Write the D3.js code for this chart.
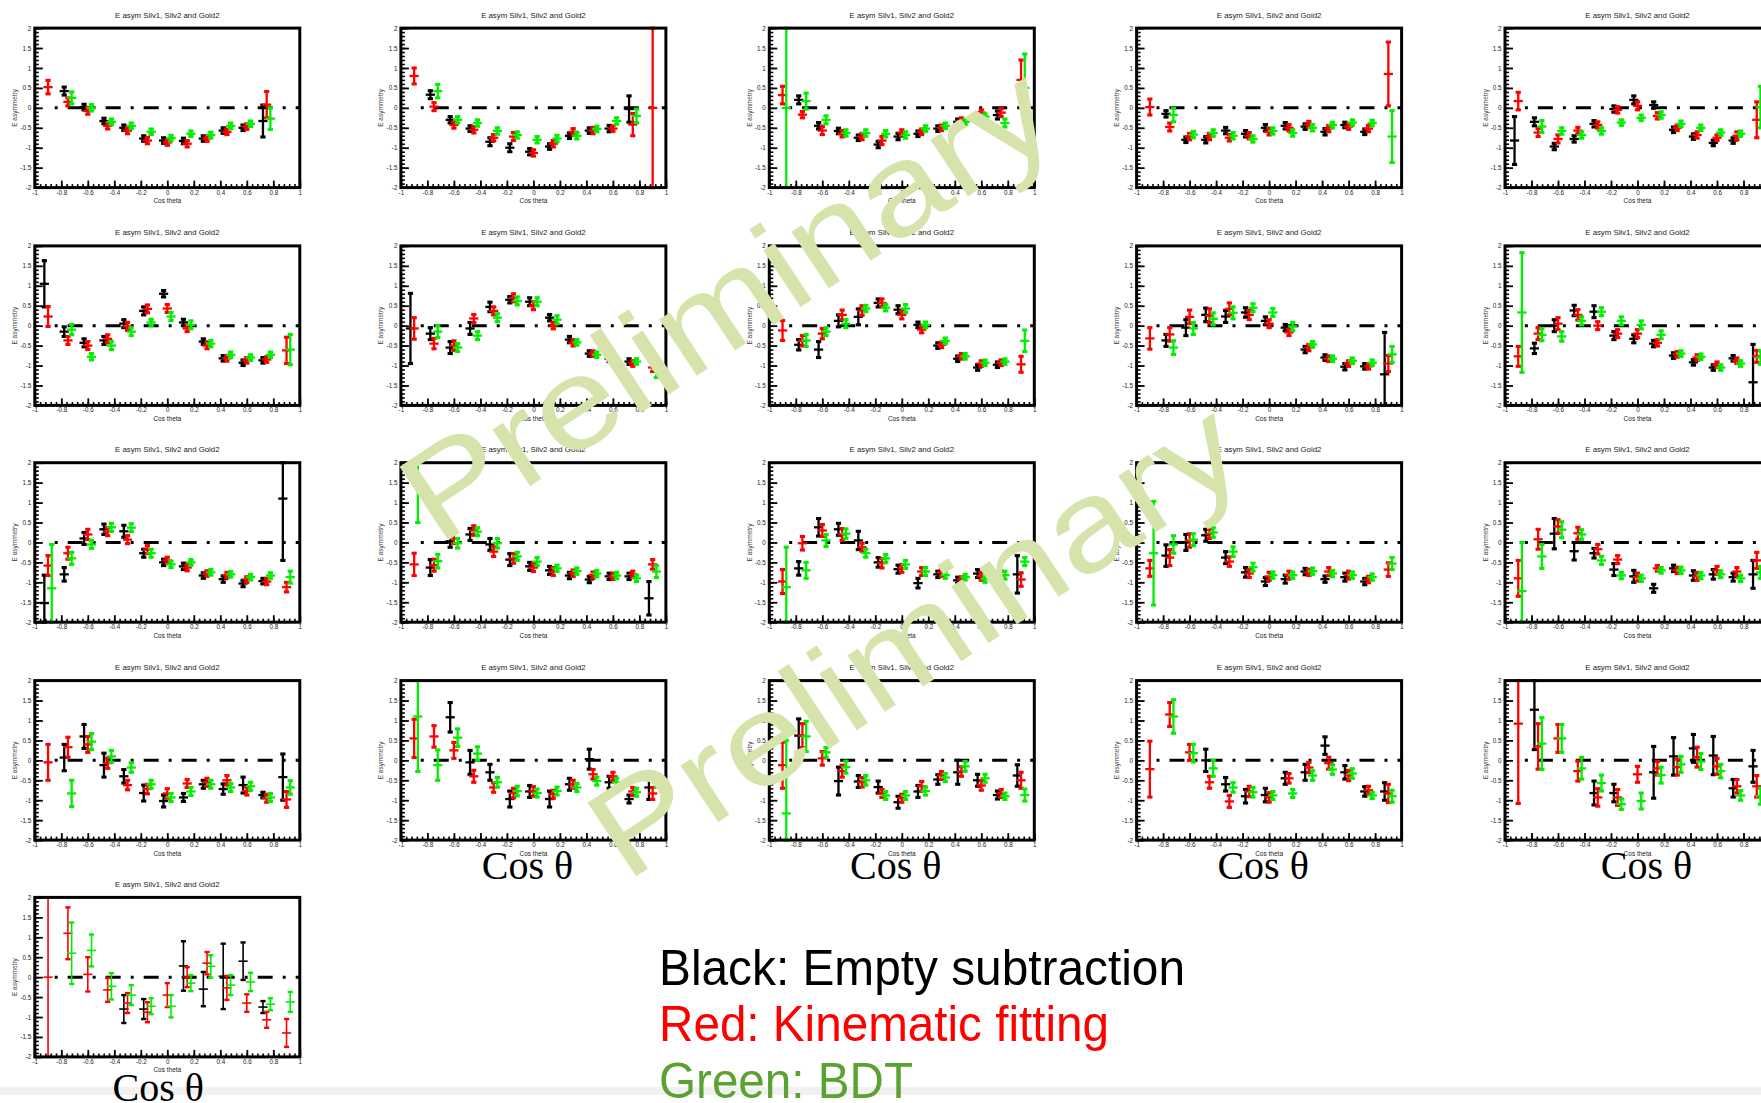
<!DOCTYPE html>
<html><head><meta charset="utf-8">
<script src="https://cdn.jsdelivr.net/npm/d3@7"></script>
<style>
html,body{margin:0;padding:0;background:#fff;}
svg{display:block;}
</style></head><body>
<svg id="chart" width="1761" height="1103"></svg>
<script>
const N = null;
const binCenters = [-0.9,-0.75,-0.6,-0.45,-0.3,-0.15,0,0.15,0.3,0.45,0.6,0.75,0.9];
const xTickValues = [-1,-0.8,-0.6,-0.4,-0.2,0,0.2,0.4,0.6,0.8,1];
const xTickLabels = ["-1","-0.8","-0.6","-0.4","-0.2","0","0.2","0.4","0.6","0.8","1"];
const yTickValues = [-2,-1.5,-1,-0.5,0,0.5,1,1.5,2];
const yTickLabels = ["-2","-1.5","-1","-0.5","0","0.5","1","1.5","2"];
const panelTitle = "E asym Silv1, Silv2 and Gold2";
const xAxisTitle = "Cos theta";
const yAxisTitle = "E asymmetry";
const bigAxisLabel = "Cos θ";
const bigLabelPanels = [16,17,18,19,20];
const seriesNames = ["Black: Empty subtraction","Red: Kinematic fitting","Green: BDT"];
const watermarkText = "Preliminary";

// [value, error] per bin, per panel (21 panels, 13 bins)
const blackData = [
[N,[0.42,0.1],[0.02,0.07],[-0.33,0.07],[-0.5,0.07],[-0.77,0.07],[-0.82,0.07],[-0.83,0.07],[-0.77,0.07],[-0.57,0.07],[-0.5,0.07],[-0.33,0.4],N],
[N,[0.33,0.1],[-0.3,0.08],[-0.52,0.07],[-0.85,0.1],[-1.0,0.1],[-1.1,0.08],[-0.97,0.07],[-0.7,0.07],[-0.57,0.07],[-0.52,0.08],[-0.03,0.33],N],
[N,[0.2,0.1],[-0.45,0.08],[-0.58,0.07],[-0.75,0.07],[-0.92,0.08],[-0.72,0.08],[-0.65,0.07],[-0.52,0.07],[-0.35,0.07],[-0.2,0.07],[-0.18,0.1],N],
[N,[-0.15,0.08],[-0.8,0.07],[-0.8,0.08],[-0.57,0.08],[-0.65,0.08],[-0.5,0.08],[-0.45,0.08],[-0.47,0.07],[-0.6,0.08],[-0.43,0.07],[-0.6,0.07],N],
[[-0.82,0.6],[-0.35,0.1],[-0.97,0.08],[-0.78,0.08],[-0.4,0.08],[-0.03,0.08],[0.2,0.1],[0.07,0.08],[-0.55,0.07],[-0.72,0.07],[-0.88,0.07],[-0.82,0.07],N],
[[1.05,0.58],[-0.15,0.12],[-0.43,0.1],[-0.37,0.1],[0.05,0.1],[0.37,0.1],[0.8,0.08],[0.08,0.08],[-0.4,0.07],[-0.82,0.07],[-0.93,0.07],[-0.87,0.07],N],
[[-0.07,0.88],[-0.2,0.15],[-0.55,0.15],[-0.07,0.15],[0.47,0.12],[0.65,0.08],[0.6,0.1],[0.2,0.08],[-0.35,0.08],[-0.7,0.07],[-0.83,0.07],[-0.9,0.07],N],
[N,[-0.48,0.13],[-0.6,0.2],[0.12,0.15],[0.22,0.2],[0.57,0.1],[0.4,0.1],[0.02,0.07],[-0.5,0.07],[-0.83,0.07],[-1.05,0.07],[-0.98,0.07],N],
[N,[-0.37,0.15],[-0.05,0.2],[0.27,0.17],[0.23,0.15],[0.33,0.12],[0.12,0.1],[-0.05,0.08],[-0.6,0.08],[-0.8,0.07],[-1.03,0.08],[-1.02,0.07],[-1.22,1.05]],
[N,[-0.57,0.13],[0.0,0.15],[0.38,0.13],[0.35,0.15],[-0.25,0.1],[-0.33,0.1],[-0.45,0.08],[-0.75,0.07],[-0.92,0.07],[-1.05,0.07],[-0.82,0.07],[-1.42,0.95]],
[[-1.52,0.7],[-0.8,0.17],[0.1,0.15],[0.33,0.13],[0.28,0.15],[-0.27,0.1],[-0.5,0.08],[-0.6,0.08],[-0.83,0.07],[-0.92,0.08],[-1.03,0.08],[-0.97,0.07],[1.1,1.55]],
[N,[-0.63,0.2],[0.03,0.15],[0.2,0.15],[-0.05,0.15],[-0.43,0.15],[-0.6,0.1],[-0.7,0.1],[-0.83,0.08],[-0.93,0.08],[-0.85,0.08],[-0.85,0.08],[-1.4,0.42]],
[N,[-0.65,0.17],[0.38,0.22],[0.33,0.15],[0.05,0.23],[-0.5,0.12],[-0.67,0.1],[-1.02,0.12],[-0.8,0.08],[-0.95,0.08],[-0.78,0.1],[-0.85,0.1],[-0.8,0.47]],
[N,[-0.33,0.27],[0.0,0.2],[0.18,0.15],[-0.38,0.15],[-0.75,0.12],[-0.98,0.1],[-0.92,0.1],[-0.73,0.08],[-0.92,0.08],[-0.87,0.1],[-0.98,0.08],N],
[N,N,[0.22,0.38],[-0.22,0.22],[-0.27,0.12],[-0.68,0.15],[-0.85,0.15],[-1.15,0.1],[-0.65,0.08],[-0.83,0.12],[-0.8,0.12],[-0.87,0.1],[-0.8,0.35]],
[N,[0.07,0.33],[0.6,0.3],[-0.12,0.3],[-0.4,0.17],[-0.82,0.2],[-1.02,0.15],[-0.93,0.1],[-0.6,0.1],[-0.72,0.13],[-0.62,0.2],[-0.87,0.07],[-0.42,0.58]],
[N,N,[1.08,0.37],[-0.05,0.3],[-0.3,0.2],[-0.97,0.2],[-0.78,0.15],[-0.97,0.2],[-0.6,0.15],[0.03,0.25],[-0.55,0.15],[-0.97,0.1],[-0.68,0.3]],
[N,[0.62,0.42],N,[-0.52,0.35],[-0.53,0.15],[-0.67,0.15],[-1.05,0.15],[-0.78,0.15],[-0.48,0.12],[-0.3,0.3],[-0.5,0.15],[-0.87,0.1],[-0.38,0.27]],
[N,N,N,[0.0,0.28],[-0.6,0.17],[-0.9,0.17],[-0.87,0.17],[-0.45,0.15],[-0.3,0.2],[0.37,0.22],[-0.3,0.17],[-0.78,0.12],[-0.78,0.22]],
[N,[1.27,1.0],N,N,[-0.82,0.3],[-0.82,0.22],N,[-0.3,0.65],[0.1,0.47],[0.3,0.35],[0.12,0.48],[-0.7,0.22],[-0.15,0.4]],
[N,N,N,N,[-0.8,0.35],[-0.8,0.25],N,[0.28,0.62],[-0.3,0.43],[0.02,0.82],[0.4,0.47],[-0.75,0.15],N]
];
const redData = [
[[0.52,0.17],[0.15,0.1],[-0.08,0.08],[-0.45,0.08],[-0.57,0.08],[-0.82,0.08],[-0.87,0.07],[-0.9,0.08],[-0.77,0.07],[-0.6,0.07],[-0.47,0.07],[0.08,0.33],N],
[[0.8,0.2],[0.03,0.1],[-0.43,0.08],[-0.55,0.08],[-0.75,0.08],[-0.72,0.1],[-1.13,0.08],[-0.9,0.08],[-0.6,0.08],[-0.57,0.08],[-0.52,0.07],[-0.42,0.28],[0.0,2.0]],
[[0.32,0.22],[-0.17,0.08],[-0.57,0.1],[-0.65,0.08],[-0.72,0.08],[-0.82,0.1],[-0.62,0.07],[-0.6,0.07],[-0.5,0.07],[-0.32,0.07],[-0.12,0.07],[-0.12,0.1],[0.7,0.5]],
[[0.02,0.2],[-0.48,0.1],[-0.72,0.08],[-0.72,0.08],[-0.75,0.08],[-0.7,0.08],[-0.6,0.08],[-0.5,0.08],[-0.42,0.08],[-0.52,0.08],[-0.47,0.07],[-0.52,0.08],[0.85,0.8]],
[[0.17,0.22],[-0.62,0.1],[-0.78,0.1],[-0.57,0.08],[-0.43,0.08],[-0.05,0.08],[0.05,0.1],[-0.2,0.08],[-0.5,0.07],[-0.68,0.08],[-0.75,0.07],[-0.7,0.1],[-0.3,0.45]],
[[0.23,0.25],[-0.37,0.1],[-0.5,0.1],[-0.33,0.1],[-0.02,0.1],[0.42,0.1],[0.43,0.1],[-0.07,0.08],[-0.5,0.08],[-0.82,0.07],[-0.87,0.07],[-0.85,0.07],[-0.62,0.33]],
[[-0.07,0.27],[-0.45,0.13],[-0.5,0.12],[0.18,0.1],[0.37,0.1],[0.7,0.1],[0.5,0.1],[0.0,0.08],[-0.43,0.08],[-0.7,0.07],[-0.88,0.07],[-0.95,0.07],[-1.05,0.1]],
[[-0.12,0.25],[-0.38,0.13],[-0.2,0.13],[0.27,0.12],[0.38,0.12],[0.57,0.1],[0.27,0.1],[-0.1,0.08],[-0.48,0.07],[-0.77,0.07],[-0.95,0.07],[-0.93,0.07],[-0.97,0.2]],
[[-0.32,0.27],[-0.22,0.17],[0.22,0.17],[0.25,0.17],[0.42,0.15],[0.27,0.12],[0.05,0.1],[-0.17,0.08],[-0.55,0.08],[-0.83,0.07],[-0.95,0.07],[-1.02,0.07],[-0.95,0.2]],
[[-0.77,0.25],[-0.2,0.15],[0.05,0.15],[0.27,0.13],[0.0,0.1],[-0.2,0.1],[-0.2,0.1],[-0.43,0.08],[-0.72,0.07],[-0.8,0.07],[-0.98,0.07],[-0.88,0.07],[-0.77,0.15]],
[[-0.58,0.25],[-0.27,0.15],[0.2,0.13],[0.27,0.1],[0.07,0.1],[-0.18,0.1],[-0.45,0.08],[-0.63,0.08],[-0.78,0.07],[-0.82,0.07],[-0.93,0.07],[-0.98,0.08],[-1.12,0.12]],
[[-0.55,0.28],[-0.57,0.15],[0.1,0.13],[0.3,0.12],[-0.23,0.12],[-0.4,0.12],[-0.63,0.1],[-0.73,0.1],[-0.77,0.08],[-0.82,0.08],[-0.85,0.08],[-0.8,0.08],[-0.55,0.12]],
[[-0.98,0.3],[-0.02,0.17],[0.3,0.15],[0.2,0.15],[-0.12,0.1],[-0.52,0.12],[-0.65,0.1],[-0.73,0.1],[-0.75,0.1],[-0.93,0.07],[-0.85,0.1],[-0.82,0.1],[-0.93,0.17]],
[[-0.65,0.2],[-0.38,0.2],[0.05,0.17],[0.22,0.12],[-0.48,0.12],[-0.78,0.1],[-0.85,0.1],[-0.82,0.1],[-0.75,0.08],[-0.73,0.1],[-0.82,0.1],[-0.93,0.08],[-0.68,0.17]],
[[-0.9,0.45],[0.08,0.25],[0.4,0.17],[0.23,0.15],[-0.17,0.12],[-0.43,0.1],[-0.87,0.1],[-0.65,0.07],[-0.7,0.08],[-0.85,0.1],[-0.7,0.1],[-0.73,0.1],[-0.45,0.2]],
[[-0.05,0.45],[0.33,0.25],[0.4,0.2],[-0.07,0.13],[-0.62,0.12],[-0.72,0.12],[-0.83,0.12],[-0.58,0.1],[-0.55,0.1],[-0.5,0.12],[-0.77,0.1],[-0.95,0.1],[-0.98,0.2]],
[[0.55,0.48],[0.6,0.27],[0.25,0.2],[-0.4,0.15],[-0.68,0.12],[-0.82,0.12],[-0.78,0.12],[-0.85,0.1],[-0.6,0.1],[-0.35,0.12],[-0.4,0.1],[-0.78,0.1],[-0.83,0.15]],
[[-0.12,0.58],[0.62,0.3],[0.05,0.17],[-0.27,0.15],[-0.55,0.12],[-0.83,0.1],[-0.95,0.1],[-0.65,0.12],[-0.38,0.1],[-0.28,0.12],[-0.63,0.12],[-0.83,0.1],[-0.5,0.2]],
[[-0.22,0.7],[1.15,0.3],[0.2,0.2],[-0.55,0.15],[-1.03,0.15],[-0.78,0.13],[-0.93,0.12],[-0.45,0.12],[-0.18,0.13],[-0.07,0.15],[-0.38,0.13],[-0.75,0.1],[-0.83,0.23]],
[[0.92,2.0],[0.35,0.57],[0.55,0.35],[-0.27,0.25],[-0.93,0.22],[-0.93,0.2],[-0.35,0.2],[-0.2,0.17],[-0.17,0.2],[0.08,0.25],[-0.15,0.2],[-0.65,0.17],[-0.65,0.27]],
[[0.0,2.0],[1.1,0.65],[0.07,0.43],[-0.32,0.3],[-0.65,0.25],[-0.88,0.25],[-0.45,0.3],[0.0,0.25],[0.35,0.28],[-0.27,0.3],[-0.65,0.22],[-1.07,0.2],[-1.4,0.35]]
];
const greenData = [
[N,[0.25,0.15],[0.0,0.08],[-0.35,0.07],[-0.45,0.07],[-0.6,0.07],[-0.76,0.07],[-0.65,0.07],[-0.68,0.07],[-0.45,0.07],[-0.4,0.07],[-0.27,0.27],N],
[N,[0.42,0.17],[-0.3,0.08],[-0.38,0.08],[-0.58,0.08],[-0.68,0.08],[-0.8,0.08],[-0.77,0.08],[-0.7,0.08],[-0.53,0.07],[-0.33,0.08],[-0.2,0.17],N],
[[0.0,2.0],[0.17,0.2],[-0.3,0.1],[-0.63,0.08],[-0.63,0.08],[-0.65,0.08],[-0.68,0.08],[-0.52,0.07],[-0.45,0.07],[-0.35,0.07],[-0.22,0.07],[-0.38,0.1],[0.5,0.85]],
[N,[-0.18,0.17],[-0.67,0.08],[-0.63,0.08],[-0.7,0.08],[-0.78,0.08],[-0.58,0.08],[-0.63,0.08],[-0.5,0.08],[-0.43,0.07],[-0.37,0.07],[-0.38,0.07],[-0.72,0.65]],
[N,[-0.47,0.15],[-0.58,0.08],[-0.68,0.08],[-0.58,0.08],[-0.37,0.07],[-0.25,0.07],[-0.18,0.08],[-0.4,0.07],[-0.5,0.07],[-0.62,0.07],[-0.65,0.07],[0.02,0.52]],
[N,[-0.1,0.13],[-0.78,0.08],[-0.5,0.1],[-0.15,0.1],[0.08,0.08],[0.23,0.1],[0.02,0.1],[-0.45,0.08],[-0.73,0.07],[-0.8,0.07],[-0.73,0.07],[-0.6,0.38]],
[N,[-0.15,0.15],[-0.55,0.1],[-0.25,0.1],[0.2,0.1],[0.62,0.1],[0.6,0.1],[0.15,0.1],[-0.42,0.07],[-0.73,0.07],[-0.87,0.07],[-0.9,0.07],[-1.1,0.2]],
[N,[-0.37,0.15],[-0.15,0.1],[0.05,0.1],[0.43,0.08],[0.45,0.08],[0.43,0.1],[0.02,0.07],[-0.38,0.07],[-0.77,0.07],[-0.93,0.07],[-0.9,0.07],[-0.38,0.27]],
[N,[-0.55,0.17],[-0.07,0.15],[0.17,0.15],[0.32,0.15],[0.45,0.1],[0.33,0.1],[-0.02,0.1],[-0.47,0.07],[-0.83,0.07],[-0.88,0.07],[-0.93,0.07],[-0.72,0.2]],
[[0.33,1.5],[-0.23,0.15],[-0.27,0.12],[0.12,0.1],[0.35,0.1],[0.12,0.1],[0.02,0.1],[-0.23,0.1],[-0.7,0.07],[-0.78,0.07],[-1.05,0.07],[-0.95,0.07],[-0.8,0.17]],
[[-1.15,1.1],[-0.4,0.15],[-0.05,0.1],[0.38,0.1],[0.37,0.1],[-0.27,0.1],[-0.55,0.08],[-0.5,0.07],[-0.75,0.07],[-0.8,0.07],[-0.87,0.07],[-0.83,0.07],[-0.87,0.15]],
[[1.55,1.05],[-0.47,0.17],[-0.02,0.12],[0.27,0.1],[-0.02,0.12],[-0.35,0.1],[-0.48,0.1],[-0.65,0.08],[-0.72,0.08],[-0.78,0.08],[-0.83,0.08],[-0.9,0.08],[-0.73,0.15]],
[[-1.12,1.0],[-0.7,0.2],[0.05,0.15],[0.22,0.12],[-0.27,0.1],[-0.4,0.1],[-0.55,0.1],[-0.73,0.1],[-0.82,0.08],[-0.87,0.07],[-0.92,0.08],[-0.82,0.1],[-0.48,0.1]],
[[-0.27,1.3],[-0.05,0.22],[0.07,0.15],[0.25,0.12],[-0.23,0.12],[-0.62,0.1],[-0.82,0.08],[-0.82,0.08],[-0.72,0.08],[-0.78,0.08],[-0.82,0.08],[-0.87,0.08],[-0.53,0.15]],
[[-1.22,1.22],[-0.35,0.3],[0.32,0.2],[0.2,0.12],[-0.45,0.1],[-0.83,0.08],[-0.9,0.08],[-0.7,0.07],[-0.7,0.08],[-0.83,0.08],[-0.8,0.08],[-0.9,0.08],[-0.75,0.15]],
[N,[-0.83,0.33],[0.47,0.2],[0.1,0.15],[-0.18,0.12],[-0.6,0.1],[-0.93,0.1],[-0.78,0.1],[-0.6,0.1],[-0.68,0.1],[-0.65,0.1],[-0.93,0.1],[-0.68,0.17]],
[[1.1,1.38],[-0.12,0.38],[0.57,0.22],[0.17,0.17],[-0.55,0.12],[-0.77,0.12],[-0.82,0.1],[-0.77,0.1],[-0.68,0.1],[-0.52,0.1],[-0.55,0.1],[-0.8,0.1],[-0.5,0.17]],
[[-1.33,1.83],[0.6,0.38],[0.2,0.12],[-0.17,0.15],[-0.5,0.12],[-0.88,0.1],[-0.88,0.1],[-0.77,0.1],[-0.43,0.1],[-0.15,0.12],[-0.45,0.1],[-0.9,0.08],[-0.87,0.15]],
[N,[1.1,0.42],[0.18,0.22],[-0.2,0.2],[-0.68,0.12],[-0.8,0.12],[-0.88,0.1],[-0.83,0.1],[-0.38,0.12],[-0.23,0.12],[-0.33,0.12],[-0.88,0.08],[-0.9,0.15]],
[N,[0.42,0.65],[0.55,0.35],[-0.2,0.27],[-0.57,0.2],[-1.1,0.13],[-1.02,0.2],[-0.37,0.2],[-0.1,0.2],[-0.03,0.2],[-0.27,0.17],[-0.88,0.12],[-0.9,0.2]],
[N,[0.6,0.77],[0.67,0.4],[-0.23,0.33],[-0.45,0.25],[-0.73,0.2],[-0.73,0.28],[-0.15,0.2],[0.27,0.28],[-0.2,0.25],[-0.12,0.23],[-0.68,0.15],[-0.62,0.25]]
];

// ---------- layout / style ----------
const svg = d3.select("#chart");
const W = 265, H = 159.5;
const colLeft = [34.8, 400.9, 769.3, 1136.6, 1505.0];
const rowTop = [28.1, 245.9, 462.7, 680.6, 897.4];
const seriesColors = ["#000000", "#ff0000", "#00ee00"];
const legendColors = ["#000000", "#ff0000", "#5aa232"];
const seriesOffsets = [-0.028, 0, 0.028];
const allSeries = [blackData, redData, greenData];
const sans = "'Liberation Sans', Arial, Helvetica, sans-serif";
const bigLabelDx = [-6, -6, -6, 9, -9];

svg.append("rect").attr("x",0).attr("y",0).attr("width",1761).attr("height",1103).attr("fill","#fff");
svg.append("rect").attr("x",0).attr("y",1087).attr("width",1761).attr("height",8).attr("fill","#f1f1f1");

const x = d3.scaleLinear().domain([-1, 1]).range([0, W]);
const y = d3.scaleLinear().domain([-2, 2]).range([H, 0]).clamp(true);

for (let p = 0; p < 21; p++) {
  const row = Math.floor(p / 5), col = p % 5;
  const g = svg.append("g").attr("transform", `translate(${colLeft[col]},${rowTop[row]})`);

  // title
  g.append("text").attr("x", W/2).attr("y", -10.5).attr("text-anchor","middle")
    .attr("font-family", sans).attr("font-size", 7.8).attr("fill","#222").text(panelTitle);

  // minor ticks
  const xMinor = d3.range(-1, 1.0001, 0.04).map(v => +v.toFixed(2));
  const yMinor = d3.range(-2, 2.0001, 0.1).map(v => +v.toFixed(2));
  g.append("g").attr("transform",`translate(0,${H})`)
    .call(d3.axisBottom(x).tickValues(xMinor).tickSize(-3.5).tickFormat(""))
    .call(a => { a.select(".domain").remove(); a.selectAll("line").attr("stroke","#000").attr("stroke-width",1.6); });
  g.append("g")
    .call(d3.axisLeft(y).tickValues(yMinor).tickSize(-4).tickFormat(""))
    .call(a => { a.select(".domain").remove(); a.selectAll("line").attr("stroke","#000").attr("stroke-width",1.6); });

  // major ticks + labels
  g.append("g").attr("transform",`translate(0,${H})`)
    .call(d3.axisBottom(x).tickValues(xTickValues).tickSize(-7).tickPadding(2.5).tickFormat((d,i)=>xTickLabels[i]))
    .call(a => {
      a.select(".domain").remove();
      a.selectAll("line").attr("stroke","#000").attr("stroke-width",1.8);
      a.selectAll("text").attr("font-family", sans).attr("font-size", 6.3).attr("fill","#222");
    });
  g.append("g")
    .call(d3.axisLeft(y).tickValues(yTickValues).tickSize(-8).tickPadding(3.5).tickFormat((d,i)=>yTickLabels[i]))
    .call(a => {
      a.select(".domain").remove();
      a.selectAll("line").attr("stroke","#000").attr("stroke-width",1.8);
      a.selectAll("text").attr("font-family", sans).attr("font-size", 6.3).attr("fill","#222");
    });

  // axis titles
  g.append("text").attr("x", W/2).attr("y", H + 15.5).attr("text-anchor","middle")
    .attr("font-family", sans).attr("font-size", 6.5).attr("fill","#222").text(xAxisTitle);
  g.append("text").attr("transform", `translate(-17.5,${H/2}) rotate(-90)`).attr("text-anchor","middle")
    .attr("font-family", sans).attr("font-size", 6.5).attr("fill","#444").text(yAxisTitle);

  // zero line (dash-dot)
  g.append("line").attr("x1", x(-0.85)).attr("x2", x(1)).attr("y1", y(0)).attr("y2", y(0))
    .attr("stroke","#000").attr("stroke-width",3).attr("stroke-dasharray","3,10,15,10");

  // data
  const lw = p === 20 ? 1.6 : 2.3;
  allSeries.forEach((series, s) => {
    const pts = series[p].map((d, i) => d ? {xv: binCenters[i] + seriesOffsets[s], v: d[0], e: d[1]} : null).filter(d => d);
    const sg = g.append("g").attr("stroke", seriesColors[s]).attr("stroke-width", lw).attr("fill","none");
    const pg = sg.selectAll("g").data(pts).join("g");
    pg.append("line").attr("x1", d => x(d.xv)).attr("x2", d => x(d.xv))
      .attr("y1", d => y(d.v - d.e)).attr("y2", d => y(d.v + d.e));
    pg.append("line").attr("x1", d => x(d.xv) - 4.6).attr("x2", d => x(d.xv) + 4.6)
      .attr("y1", d => y(d.v)).attr("y2", d => y(d.v));
    pg.append("line").attr("x1", d => x(d.xv) - 2.6).attr("x2", d => x(d.xv) + 2.6)
      .attr("y1", d => y(d.v + d.e)).attr("y2", d => y(d.v + d.e)).attr("stroke-width", lw + 0.8);
    pg.append("line").attr("x1", d => x(d.xv) - 2.6).attr("x2", d => x(d.xv) + 2.6)
      .attr("y1", d => y(d.v - d.e)).attr("y2", d => y(d.v - d.e)).attr("stroke-width", lw + 0.8);
  });

  // frame
  g.append("rect").attr("x",0).attr("y",0).attr("width",W).attr("height",H)
    .attr("fill","none").attr("stroke","#000").attr("stroke-width",3);

  if (bigLabelPanels.includes(p)) {
    const k = bigLabelPanels.indexOf(p);
    g.append("text").attr("x", W/2 + bigLabelDx[k]).attr("y", H + (p === 20 ? 44 : 39)).attr("text-anchor","middle")
      .attr("font-family","'Liberation Serif', 'Times New Roman', serif").attr("font-size", 40)
      .attr("fill","#000").text(bigAxisLabel);
  }
}

// legend text
const legendY = [985, 1041, 1098];
const legendLen = [526, 450, 254];
seriesNames.forEach((t, i) => {
  svg.append("text").attr("x", 659).attr("y", legendY[i])
    .attr("font-family", sans).attr("font-size", 50).attr("fill", legendColors[i])
    .attr("textLength", legendLen[i]).attr("lengthAdjust","spacingAndGlyphs").text(t);
});

// watermarks
const wmPos = [[438, 547], [626, 883]];
wmPos.forEach(([wx, wy]) => {
  svg.append("text").attr("transform", `translate(${wx},${wy}) rotate(-33.5)`)
    .attr("font-family", sans).attr("font-size", 128).attr("fill", "#d6e3aa")
    .attr("textLength", 750).attr("lengthAdjust","spacingAndGlyphs").text(watermarkText);
});
</script>
</body></html>
